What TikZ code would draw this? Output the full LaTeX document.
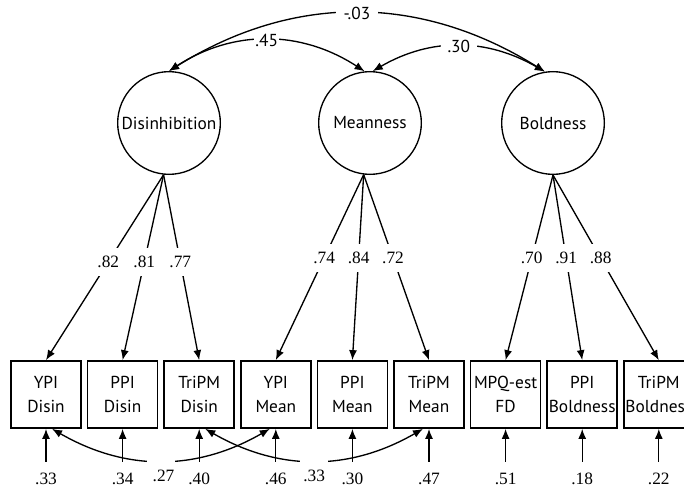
\documentclass[tikz,border=0pt]{standalone}
\usepackage{fontspec}
\setmainfont{Liberation Serif}
\newfontfamily\labelsans{PT Sans}
\usetikzlibrary{arrows.meta}
\tikzset{
  latent/.style={draw,circle,line width=1pt,minimum size=77pt,inner sep=0pt,font=\labelsans\fontsize{13}{15}\selectfont},
  manifest/.style={draw,rectangle,line width=1.3pt,minimum width=52.5pt,minimum height=50.25pt,inner sep=0pt,align=center,font=\labelsans\fontsize{13}{18}\selectfont},
  load/.style={line width=1pt,-{Latex[length=7.5pt,width=6pt]}},
  cov/.style={line width=1pt,{Latex[length=7.5pt,width=6pt]}-{Latex[length=7.5pt,width=6pt]}},
  coef/.style={fill=white,inner xsep=2pt,inner ysep=6pt,font=\fontsize{13}{15}\selectfont},
  corr/.style={fill=white,inner xsep=1pt,inner ysep=1pt,font=\labelsans\fontsize{13}{15}\selectfont},
  resid/.style={inner xsep=0pt,inner ysep=9pt,text height=8pt,text depth=0pt,font=\fontsize{13}{15}\selectfont},
  gap/.style={fill=white,inner sep=0pt,minimum width=21pt,minimum height=4pt}
}
\begin{document}
\begin{tikzpicture}[x=0.75pt,y=0.75pt]
        \useasboundingbox (0,0) rectangle (684,490);
        \node[latent] (dis) at (169,367) {Disinhibition};
        \node[latent] (mea) at (370,367) {Meanness};
        \node[latent] (bol) at (553,367) {Boldness};
        \node[manifest] (m1) at (46,95.5) {YPI\\Disin};
        \node[manifest] (m2) at (122.6,95.5) {PPI\\Disin};
        \node[manifest] (m3) at (199.2,95.5) {TriPM\\Disin};
        \node[manifest] (m4) at (275.8,95.5) {YPI\\Mean};
        \node[manifest] (m5) at (352.4,95.5) {PPI\\Mean};
        \node[manifest] (m6) at (429,95.5) {TriPM\\Mean};
        \node[manifest] (m7) at (505.6,95.5) {MPQ-est\\FD};
        \node[manifest] (m8) at (582.2,95.5) {PPI\\Boldness};
        \node[manifest] (m9) at (658.8,95.5) {TriPM\\Boldness};
        \node[resid] (e1) at (46,10.5) {.33};
        \node[resid] (e2) at (122.6,10.5) {.34};
        \node[resid] (e3) at (199.2,10.5) {.40};
        \node[resid] (e4) at (275.8,10.5) {.46};
        \node[resid] (e5) at (352.4,10.5) {.30};
        \node[resid] (e6) at (429,10.5) {.47};
        \node[resid] (e7) at (505.6,10.5) {.51};
        \node[resid] (e8) at (582.2,10.5) {.18};
        \node[resid] (e9) at (658.8,10.5) {.22};
        % loadings
        \draw[load] (dis.264) -- node[coef,pos=0.47] {.82} (m1.north);
        \draw[load] (dis.264) -- node[coef,pos=0.47] {.81} (m2.north);
        \draw[load] (dis.264) -- node[coef,pos=0.47] {.77} (m3.north);
        \draw[load] (mea.263) -- node[coef,pos=0.45] {.74} (m4.north);
        \draw[load] (mea.263) -- node[coef,pos=0.45] {.84} (m5.north);
        \draw[load] (mea.263) -- node[coef,pos=0.45] {.72} (m6.north);
        \draw[load] (bol.south) -- node[coef,pos=0.45] {.70} (m7.north);
        \draw[load] (bol.south) -- node[coef,pos=0.45] {.91} (m8.north);
        \draw[load] (bol.south) -- node[coef,pos=0.45] {.88} (m9.north);
        % latent correlations
        \draw[cov] (dis.north) to[out=32,in=148] node[corr,inner xsep=6pt] {-.03} (bol.99);
        \draw[cov] (dis.north) to[out=33,in=147] node[corr] {.45} (mea.96);
        \draw[cov] (mea.87) to[out=30,in=150] node[corr,inner xsep=5pt] {.30} (bol.99);
        % residuals
        \draw[load] (e1.north) -- (m1.south);
        \draw[load] (e2.north) -- (m2.south);
        \draw[load] (e3.north) -- (m3.south);
        \draw[load] (e4.north) -- (m4.south);
        \draw[load] (e5.north) -- (m5.south);
        \draw[load] (e6.north) -- (m6.south);
        \draw[load] (e7.north) -- (m7.south);
        \draw[load] (e8.north) -- (m8.south);
        \draw[load] (e9.north) -- (m9.south);
        \draw[cov] (m1.-80) to[out=-30,in=-150] node[gap,label={[font=\fontsize{13}{15}\selectfont,label distance=1pt,xshift=2pt]below:.27}] (g1) {} (m4.-100);
        \draw[cov] (m3.-80) to[out=-30,in=-150] node[gap,label={[font=\fontsize{13}{15}\selectfont,label distance=1pt]below:.33}] (g2) {} (m6.-100);
\end{tikzpicture}
\end{document}
